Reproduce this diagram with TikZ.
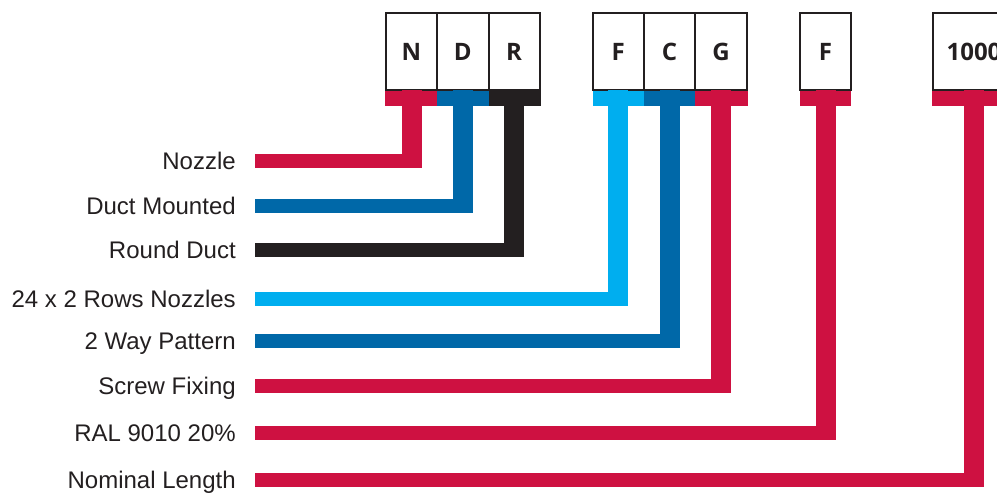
\documentclass[tikz,border=0pt]{standalone}
\usepackage{fontspec}
\setmainfont{Liberation Sans}
\newfontfamily\codefont{Open Sans}
\usetikzlibrary{positioning}

\definecolor{crimson}{RGB}{206,17,65}
\definecolor{ductblue}{RGB}{0,104,168}
\definecolor{skyblue}{RGB}{0,174,239}
\definecolor{inkblack}{RGB}{35,31,32}

\begin{document}
\begin{tikzpicture}[
  x=0.75pt, y=-0.75pt,
  code/.style={draw=inkblack, line width=1.5pt, fill=white, outer sep=0pt, inner sep=0pt,
               minimum width=38.5pt, minimum height=57.75pt,
               font=\codefont\bfseries\fontsize{18}{20}\selectfont, text=inkblack},
  lbl/.style={anchor=east, inner sep=0pt, text height=12.75pt, text depth=0pt,
              font=\fontsize{18}{20}\selectfont, text=inkblack},
  stem/.style={line width=15pt},
  wire/.style={line width=10.5pt}]
  \useasboundingbox (0,0) rectangle (997,494);

  % code boxes
  \node[code] (cN) at (411.5,51.5) {N};
  \node[code, right=0pt of cN] (cD) {D};
  \node[code, right=0pt of cD] (cR) {R};
  \node[code] (cF) at (618.3,51.5) {F};
  \node[code, right=0pt of cF] (cC) {C};
  \node[code, right=0pt of cC] (cG) {G};
  \node[code] (cP) at (825.5,51.5) {F};
  \node[code, minimum width=61.5pt] (cL) at (974,51.5) {1000};

  % labels
  \node[lbl] (l1) at (236,161) {Nozzle};
  \node[lbl] (l2) at (236,206) {Duct Mounted};
  \node[lbl] (l3) at (236,250) {Round Duct};
  \node[lbl] (l4) at (236,299) {24 x 2 Rows Nozzles};
  \node[lbl] (l5) at (236,341) {2 Way Pattern};
  \node[lbl] (l6) at (236,386) {Screw Fixing};
  \node[lbl] (l7) at (236,432.5) {RAL 9010 20\%};
  \node[lbl] (l8) at (236,479.5) {Nominal Length};

  % colour bars under the boxes
  \fill[crimson]  ([xshift=-0.75pt, yshift=-0.75pt]cN.south west) rectangle ([yshift=-12pt]cN.south east);
  \fill[ductblue] ([yshift=-0.75pt]cD.south west) rectangle ([yshift=-12pt]cD.south east);
  \fill[inkblack] ([yshift=-0.75pt]cR.south west) rectangle ([xshift=0.75pt, yshift=-12pt]cR.south east);
  \fill[skyblue]  ([yshift=-0.75pt]cF.south west) rectangle ([yshift=-12pt]cF.south east);
  \fill[ductblue] ([yshift=-0.75pt]cC.south west) rectangle ([yshift=-12pt]cC.south east);
  \fill[crimson]  ([yshift=-0.75pt]cG.south west) rectangle ([xshift=0.75pt, yshift=-12pt]cG.south east);
  \fill[crimson]  ([yshift=-0.75pt]cP.south west) rectangle ([yshift=-12pt]cP.south east);
  \fill[crimson]  ([xshift=-0.75pt, yshift=-0.75pt]cL.south west) rectangle ([yshift=-12pt]cL.south east);

  % joints of stems and wires
  \coordinate (j1) at (cN.south |- l1.east);
  \coordinate (j2) at (cD.south |- l2.east);
  \coordinate (j3) at (cR.south |- l3.east);
  \coordinate (j4) at (cF.south |- l4.east);
  \coordinate (j5) at (cC.south |- l5.east);
  \coordinate (j6) at (cG.south |- l6.east);
  \coordinate (j7) at (cP.south |- l7.east);
  \coordinate (j8) at (cL.south |- l8.east);

  % connectors
  \draw[stem, crimson]  (cN.south) -- ([yshift=-5.25pt]j1);
  \draw[wire, crimson]  ([xshift=14.25pt]l1.east) -- ([xshift=7.5pt]j1);
  \draw[stem, ductblue] (cD.south) -- ([yshift=-5.25pt]j2);
  \draw[wire, ductblue] ([xshift=14.25pt]l2.east) -- ([xshift=7.5pt]j2);
  \draw[stem, inkblack] (cR.south) -- ([yshift=-5.25pt]j3);
  \draw[wire, inkblack] ([xshift=14.25pt]l3.east) -- ([xshift=7.5pt]j3);
  \draw[stem, skyblue]  (cF.south) -- ([yshift=-5.25pt]j4);
  \draw[wire, skyblue]  ([xshift=14.25pt]l4.east) -- ([xshift=7.5pt]j4);
  \draw[stem, ductblue] (cC.south) -- ([yshift=-5.25pt]j5);
  \draw[wire, ductblue] ([xshift=14.25pt]l5.east) -- ([xshift=7.5pt]j5);
  \draw[stem, crimson]  (cG.south) -- ([yshift=-5.25pt]j6);
  \draw[wire, crimson]  ([xshift=14.25pt]l6.east) -- ([xshift=7.5pt]j6);
  \draw[stem, crimson]  (cP.south) -- ([yshift=-5.25pt]j7);
  \draw[wire, crimson]  ([xshift=14.25pt]l7.east) -- ([xshift=7.5pt]j7);
  \draw[stem, crimson]  (cL.south) -- ([yshift=-5.25pt]j8);
  \draw[wire, crimson]  ([xshift=14.25pt]l8.east) -- ([xshift=7.5pt]j8);
\end{tikzpicture}
\end{document}
